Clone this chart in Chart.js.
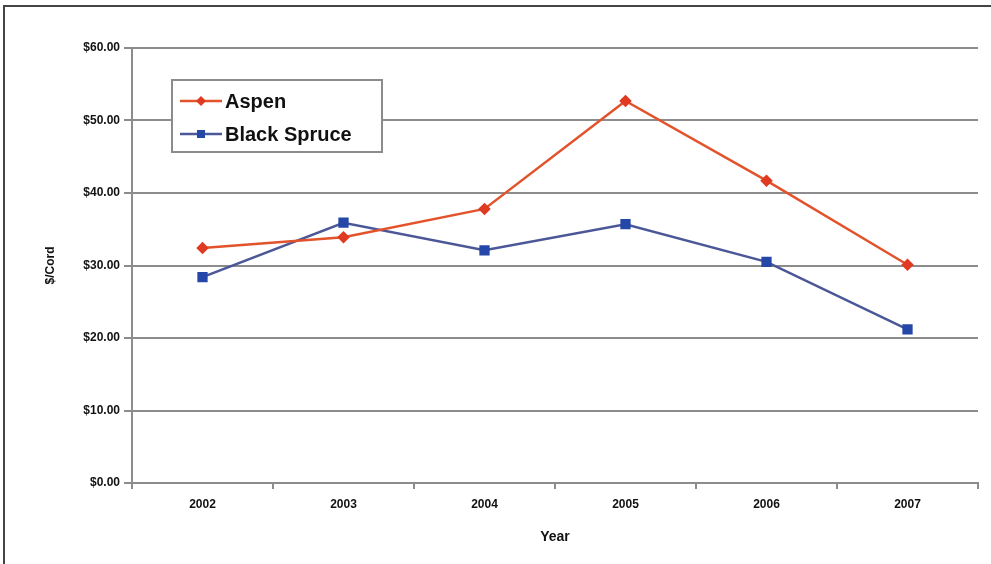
<!DOCTYPE html>
<html>
<head>
<meta charset="utf-8">
<script src="https://cdn.jsdelivr.net/npm/chart.js@4/dist/chart.umd.min.js"></script>
<style>
  html, body { margin: 0; padding: 0; background: #fff; }
  #wrap { position: relative; width: 991px; height: 564px; overflow: hidden; }
  #frame { position: absolute; left: 3px; top: 5px; width: 1000px; height: 600px;
           border-left: 2px solid #444; border-top: 2px solid #444; box-sizing: border-box; }
  canvas { position: absolute; left: 0; top: 0; }
</style>
</head>
<body>
<div id="wrap">
  <div id="frame"></div>
  <canvas id="priceChart" width="991" height="564"></canvas>
</div>
<script>
const years = ["2002", "2003", "2004", "2005", "2006", "2007"];
const aspen = [32.4, 33.9, 37.8, 52.7, 41.7, 30.1];
const blackSpruce = [28.4, 35.9, 32.1, 35.7, 30.5, 21.2];
const yTicks = [0, 10, 20, 30, 40, 50, 60];

const fontFamily = "Liberation Sans Narrow, Liberation Sans, Arial";
const tickFont = { family: fontFamily, size: 12, weight: "bold" };

/** --------------- Legend box inside plot ---------------- */
const boxLegend = {
    id: "boxLegend",
    afterDraw(chart) {
        const ctx = chart.ctx;
        const x = 172, y = 80, w = 210, h = 72;
        ctx.save();
        ctx.fillStyle = "#fff";
        ctx.fillRect(x, y, w, h);
        ctx.strokeStyle = "#8c8c8c";
        ctx.lineWidth = 2;
        ctx.strokeRect(x, y, w, h);
        chart.data.datasets.forEach((ds, i) => {
            const cy = y + 21 + i * 33;
            ctx.strokeStyle = ds.borderColor;
            ctx.lineWidth = 2.5;
            ctx.beginPath();
            ctx.moveTo(x + 8, cy);
            ctx.lineTo(x + 50, cy);
            ctx.stroke();
            ctx.fillStyle = ds.pointBackgroundColor;
            if (ds.pointStyle === "rect") {
                ctx.fillRect(x + 25, cy - 4, 8, 8);
            } else {
                ctx.beginPath();
                ctx.moveTo(x + 29, cy - 5);
                ctx.lineTo(x + 34, cy);
                ctx.lineTo(x + 29, cy + 5);
                ctx.lineTo(x + 24, cy);
                ctx.closePath();
                ctx.fill();
            }
            ctx.fillStyle = "#111";
            ctx.font = "bold 20px 'Liberation Sans', Arial";
            ctx.textBaseline = "middle";
            ctx.fillText(ds.label, x + 53, cy + 1);
        });
        ctx.restore();
    }
};

new Chart(document.getElementById("priceChart").getContext("2d"), {
    type: "line",
    data: {
        labels: years,
        datasets: [
            {
                label: "Aspen",
                data: aspen,
                borderColor: "#e2532c",
                backgroundColor: "#e2532c",
                pointBackgroundColor: "#e03a22",
                pointBorderColor: "#e03a22",
                pointStyle: "rectRot",
                pointRadius: 4.5,
                borderWidth: 2.5,
                tension: 0,
            },
            {
                label: "Black Spruce",
                data: blackSpruce,
                borderColor: "#4b5796",
                backgroundColor: "#4b5796",
                pointBackgroundColor: "#2547a8",
                pointBorderColor: "#2547a8",
                pointStyle: "rect",
                pointRadius: 5.5,
                borderWidth: 2.5,
                tension: 0,
            },
        ],
    },
    options: {
        responsive: false,
        animation: false,
        layout: { padding: { top: 48, right: 13, left: 0, bottom: 0 } },
        plugins: {
            legend: { display: false },
            tooltip: { enabled: false },
        },
        scales: {
            x: {
                offset: true,
                afterFit: s => { s.height = 81; },
                grid: {
                    offset: true,
                    drawOnChartArea: false,
                    drawTicks: true,
                    tickLength: 6,
                    color: "#8c8c8c",
                    lineWidth: 2,
                },
                border: { color: "#8c8c8c", width: 2 },
                ticks: { color: "#111", font: tickFont, padding: 8 },
                title: {
                    display: true,
                    text: "Year",
                    color: "#111",
                    font: { family: fontFamily, size: 14, weight: "bold" },
                    padding: { top: 4, bottom: 18 },
                },
            },
            y: {
                min: 0,
                max: 60,
                afterFit: s => { s.width = 132; },
                afterBuildTicks: s => { s.ticks = yTicks.map(v => ({ value: v })); },
                grid: {
                    color: "#8c8c8c",
                    lineWidth: 2,
                    tickLength: 8,
                },
                border: { color: "#8c8c8c", width: 2 },
                ticks: {
                    color: "#111",
                    font: tickFont,
                    padding: 4,
                    callback: v => "$" + v.toFixed(2),
                },
                title: {
                    display: true,
                    text: "$/Cord",
                    color: "#111",
                    font: { family: fontFamily, size: 12, weight: "bold" },
                    padding: { top: 43, bottom: 2 },
                },
            },
        },
    },
    plugins: [boxLegend],
});
</script>
</body>
</html>
